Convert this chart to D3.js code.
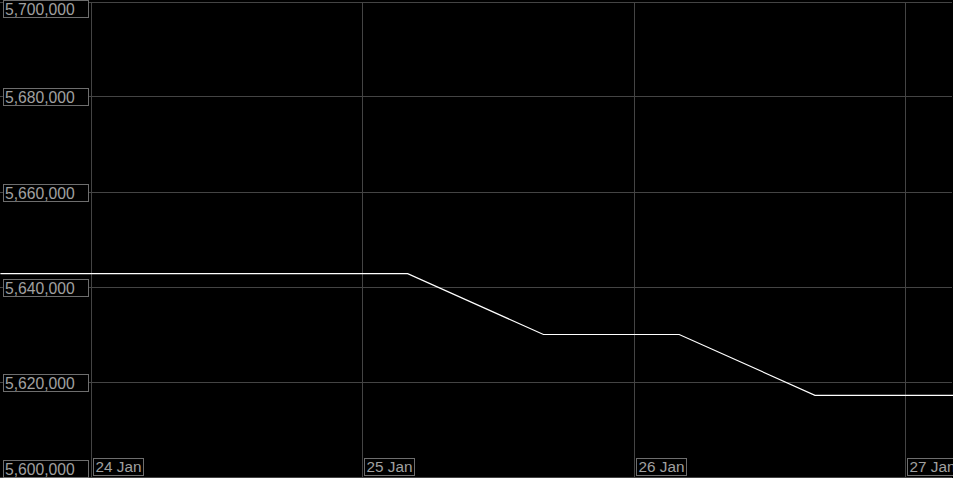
<!DOCTYPE html>
<html>
<head>
<meta charset="utf-8">
<script src="https://cdn.jsdelivr.net/npm/d3@7"></script>
<style>
  body { margin: 0; background: #000; }
  svg { display: block; }
  .grid line { stroke: #444; shape-rendering: crispEdges; }
  .lbl rect { fill: #000; stroke: #6e6e6e; shape-rendering: crispEdges; }
  .lbl text { fill: #a0a0a0; font-family: "Liberation Sans", Arial, sans-serif; }
</style>
</head>
<body>
<div id="chart"></div>
<script>
// series values
var times = [
  "2024-01-23T16:00", "2024-01-24T04:00", "2024-01-24T16:00", "2024-01-25T04:00",
  "2024-01-25T16:00", "2024-01-26T04:00", "2024-01-26T16:00", "2024-01-27T04:00",
  "2024-01-27T04:15"
];
var values = [5642700, 5642700, 5642700, 5642700, 5629900, 5629900, 5617100, 5617100, 5617100];

var yTicks = [5600000, 5620000, 5640000, 5660000, 5680000, 5700000];
var xTicks = ["2024-01-24", "2024-01-25", "2024-01-26", "2024-01-27"];
var xTickLabels = ["24 Jan", "25 Jan", "26 Jan", "27 Jan"];

var width = 953, height = 478;
var parse = d3.timeParse("%Y-%m-%dT%H:%M");
var parseDay = d3.timeParse("%Y-%m-%d");

var data = times.map(function(t, i) {
    return { date: parse(t), value: values[i] };
});

var x = d3.scaleTime()
    .domain([parse("2024-01-23T15:58"), parse("2024-01-27T04:12")])
    .range([0, width]);

var y = d3.scaleLinear()
    .domain([5600000, 5700000])
    .range([476.5, 1.5]);

var svg = d3.select("#chart").append("svg")
    .attr("width", width)
    .attr("height", height);

svg.append("rect").attr("width", width).attr("height", height).attr("fill", "#000");

var grid = svg.append("g").attr("class", "grid");

grid.selectAll(".h")
    .data(yTicks)
    .enter().append("line")
    .attr("x1", 0).attr("x2", width - 1)
    .attr("y1", function(d) { return Math.round(y(d)) + 0.5; })
    .attr("y2", function(d) { return Math.round(y(d)) + 0.5; });

grid.selectAll(".v")
    .data(xTicks)
    .enter().append("line")
    .attr("x1", function(d) { return Math.round(x(parseDay(d))) + 0.5; })
    .attr("x2", function(d) { return Math.round(x(parseDay(d))) + 0.5; })
    .attr("y1", y(5700000)).attr("y2", y(5600000));

var line = d3.line()
    .x(function(d) { return x(d.date); })
    .y(function(d) { return y(d.value); });

svg.append("path")
    .datum(data)
    .attr("fill", "none")
    .attr("stroke", "#fff")
    .attr("stroke-width", 1.2)
    .attr("d", line);

// y labels
var fmt = d3.format(",");
var yl = svg.selectAll(".ylbl")
    .data(yTicks)
    .enter().append("g")
    .attr("class", "lbl")
    .attr("transform", function(d) {
        var cy = Math.round(y(d));
        var top = cy - 8;
        if (top < 0) top = 0;
        if (top + 17 > 477) top = 460;
        return "translate(3," + top + ")";
    });

yl.append("rect")
    .attr("x", 0.5).attr("y", 0.5)
    .attr("width", 85).attr("height", 17);

yl.append("text")
    .attr("x", 2).attr("y", 14.5)
    .attr("font-size", "15.7px")
    .text(function(d) { return fmt(d); });

// x labels
var xl = svg.selectAll(".xlbl")
    .data(xTicks)
    .enter().append("g")
    .attr("class", "lbl")
    .attr("transform", function(d) {
        return "translate(" + (Math.round(x(parseDay(d))) + 2) + ",458)";
    });

xl.append("text")
    .attr("x", 2.5).attr("y", 14)
    .attr("font-size", "15.3px")
    .text(function(d, i) { return xTickLabels[i]; })
    .each(function() {
        var w = this.getComputedTextLength();
        d3.select(this.parentNode).insert("rect", "text")
            .attr("x", 0.5).attr("y", 0.5)
            .attr("width", Math.round(w) + 4).attr("height", 17);
    });
</script>
</body>
</html>
